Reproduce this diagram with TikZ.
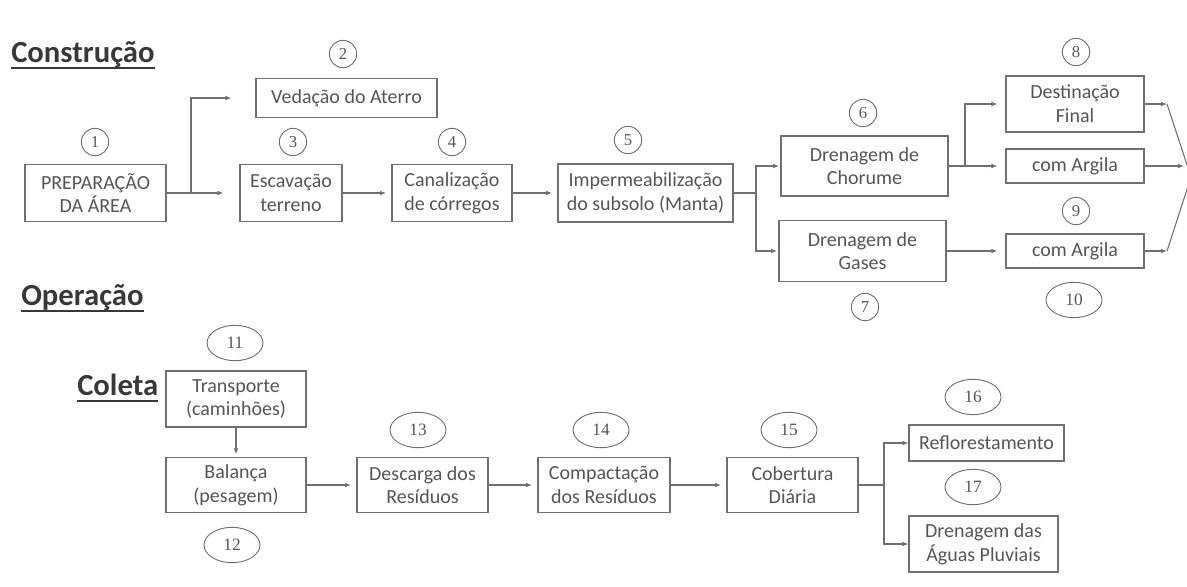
\documentclass[tikz,border=0pt]{standalone}
\usepackage{fontspec}
\setmainfont{Carlito}
\newfontfamily\numfont{Liberation Serif}
\usetikzlibrary{arrows.meta,positioning,shapes.geometric}
\definecolor{ink}{HTML}{555555}
\definecolor{frame}{HTML}{707070}
\definecolor{head}{HTML}{383838}

\begin{document}
\begin{tikzpicture}[x=0.75pt,y=-0.75pt,>={Latex[length=4.5pt,width=3.5pt]},
  box/.style={draw=frame,line width=0.8pt,text=ink,align=center,inner sep=0pt,
    font=\fontsize{15}{17.8}\selectfont},
  wh/.style 2 args={minimum width=#1*0.75pt,minimum height=#2*0.75pt},
  num/.style={circle,draw=frame,line width=0.7pt,text=ink,minimum size=20.5pt,inner sep=0pt,
    font=\numfont\fontsize{12.5}{12.5}\selectfont},
  oval/.style={ellipse,draw=frame,line width=0.7pt,text=ink,inner sep=0pt,
    minimum width=42pt,minimum height=26.5pt,font=\numfont\fontsize{13}{13}\selectfont},
  title/.style={anchor=base west,inner sep=0pt,text=head,font=\bfseries\fontsize{23}{23}\selectfont},
  flow/.style={->,draw=frame,line width=0.8pt,shorten >=4pt}]
\useasboundingbox (0,0) rectangle (1187,586);

% titles
\node[title] (tcon) at (11,62) {Construção};
\node[title] (tope) at (21,305) {Operação};
\node[title] (tcol) at (77,395) {Coleta};
\foreach \t in {tcon,tope,tcol}
  \draw[head,line width=1.6pt] ([yshift=-4.2pt]\t.base west) -- ([yshift=-4.2pt]\t.base east);

% construction
\node[box,wh={141}{57}] (prep) at (95.5,193) {PREPARAÇÃO\\DA ÁREA};
\node[box,wh={181}{39}] (ved) at (346.5,98) {Vedação do Aterro};
\node[box,wh={102}{57}] (esc) at (291,193) {Escavação\\terreno};
\node[box,wh={120}{57}] (can) at (452,193) {Canalização\\de córregos};
\node[box,wh={175}{58}] (imp) at (645.5,193) {Impermeabilização\\do subsolo (Manta)};
\node[box,wh={167}{60}] (cho) at (864.5,166) {Drenagem de\\Chorume};
\node[box,wh={167}{61}] (gas) at (862.5,251) {Drenagem de\\Gases};
\node[box,wh={138}{56}] (des) at (1075,104) {Destinação\\Final};
\node[box,wh={138}{34}] (arg1) at (1075,166) {com Argila};
\node[box,wh={138}{34}] (arg2) at (1075,251) {com Argila};

\node[num] (n1) at (95,142) {1};
\node[num] (n2) at (343,54) {2};
\node[num] (n3) at (293,142) {3};
\node[num] (n4) at (452,142) {4};
\node[num] (n5) at (628,140) {5};
\node[num] (n6) at (863,113) {6};
\node[num] (n7) at (865,307) {7};
\node[num] (n8) at (1076,52) {8};
\node[num] (n9) at (1076,211) {9};
\node[oval] (n10) at (1074,300) {10};

\coordinate (f1) at (191,193);
\coordinate (f2) at (756,193);
\coordinate (f3) at (965,166);
\coordinate (r1) at (1167,104);
\coordinate (r2) at (1184,166);
\coordinate (r3) at (1167,251);
\coordinate (tip) at (1191,177);

\draw[flow,shorten >=12pt] (prep) -- (esc);
\draw[flow,shorten >=18pt] (f1) |- (ved.west);
\draw[flow] (esc) -- (can);
\draw[flow] (can) -- (imp);
\draw[draw=frame,line width=0.8pt] (imp.east) -- (f2);
\draw[flow,shorten >=1pt] (f2) |- (cho.west);
\draw[flow,shorten >=1pt] (f2) |- (gas.west);
\draw[flow,shorten >=6pt] (cho) -- (arg1);
\draw[flow,shorten >=6pt] (f3) |- (des.west);
\draw[flow,shorten >=6pt] (gas) -- (arg2);
\draw[flow,shorten >=0pt] (des.east) -- (r1);
\draw[flow,shorten >=0pt] (arg1.east) -- (r2);
\draw[flow,shorten >=0pt] (arg2.east) -- (r3);
\draw[draw=frame,line width=0.8pt] (r1) -- (tip) -- (r3);

% operation
\node[box,wh={140}{56}] (tra) at (236,399) {Transporte\\(caminhões)};
\node[box,wh={140}{55}] (bal) at (236,485) {Balança\\(pesagem)};
\node[box,wh={131}{55}] (dsc) at (422.5,485) {Descarga dos\\Resíduos};
\node[box,wh={132}{55}] (cmp) at (604,485) {Compactação\\dos Resíduos};
\node[box,wh={131}{55}] (cob) at (792.5,485) {Cobertura\\Diária};
\node[box,wh={155}{36}] (ref) at (986.5,443) {Reflorestamento};
\node[box,wh={149}{56}] (plu) at (983.5,544) {Drenagem das\\Águas Pluviais};

\node[oval] (n11) at (235,343) {11};
\node[oval] (n12) at (232,545) {12};
\node[oval] (n13) at (418,430) {13};
\node[oval] (n14) at (601,430) {14};
\node[oval] (n15) at (789,430) {15};
\node[oval] (n16) at (973,397) {16};
\node[oval] (n17) at (973,487) {17};

\coordinate (f4) at (884,485);
\draw[flow,shorten >=2pt] (tra) -- (bal);
\draw[flow] (bal) -- (dsc);
\draw[flow] (dsc) -- (cmp);
\draw[flow] (cmp) -- (cob);
\draw[draw=frame,line width=0.8pt] (cob.east) -- (f4);
\draw[flow,shorten >=0pt] (f4) |- (ref.west);
\draw[flow,shorten >=0pt] (f4) |- (plu.west);
\end{tikzpicture}
\end{document}
